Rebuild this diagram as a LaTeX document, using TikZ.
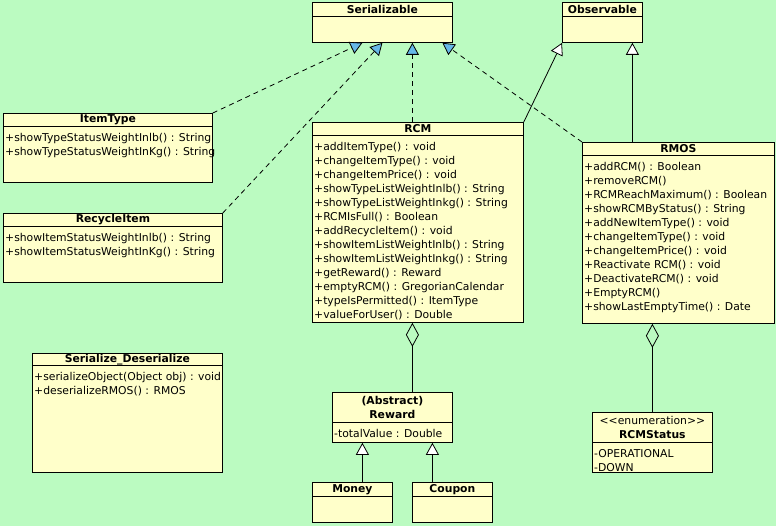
\documentclass[tikz,border=0pt]{standalone}
\usepackage{fontspec}
\setmainfont{DejaVu Sans}
\usetikzlibrary{arrows.meta}
\definecolor{vpgreen}{RGB}{187,251,193}
\definecolor{vpyellow}{RGB}{255,255,202}
\definecolor{vpblue}{RGB}{102,184,232}

\begin{document}
\begin{tikzpicture}[x=1pt, y=-1pt, font=\fontsize{10.8}{14}\selectfont]
% Define styles
\tikzstyle{classbox} = [rectangle, anchor=north west, inner sep=0pt, draw=black, fill=vpyellow, line width=0.8pt]
\tikzstyle{classhead} = [rectangle, anchor=north, inner sep=0pt, draw=black, line width=0.8pt, align=center, font=\fontsize{10.8}{14}\selectfont\bfseries]
\tikzstyle{members} = [anchor=north west, align=left, inner xsep=2pt, inner ysep=6pt]
\tikzstyle{realize} = [line width=0.8pt, dash pattern=on 5pt off 4pt, -{Triangle[length=12pt, width=13pt, fill=vpblue]}]
\tikzstyle{extend} = [line width=0.8pt, -{Triangle[length=12pt, width=13pt, fill=white]}]
\tikzstyle{aggregate} = [line width=0.8pt, {Diamond[open, length=24pt, width=13pt]}-]

% Background
\fill [vpgreen] (0,0) rectangle (776,526);
\useasboundingbox (0,0) rectangle (776,526);

% Draw classes
\node [classbox, minimum width=140pt, minimum height=40pt] (serializable) at (312,2) {};
\node [classhead, minimum width=140pt, minimum height=14pt] (serializablehead) at (serializable.north) {Serializable};

\node [classbox, minimum width=80pt, minimum height=40pt] (observable) at (562,2) {};
\node [classhead, minimum width=80pt, minimum height=14pt] (observablehead) at (observable.north) {Observable};

\node [classbox, minimum width=209pt, minimum height=69pt] (itemtype) at (3,113) {};
\node [classhead, minimum width=209pt, minimum height=13pt] (itemtypehead) at (itemtype.north) {ItemType};
\node [members] at (itemtypehead.south west) {+showTypeStatusWeightInlb() : String\\+showTypeStatusWeightInKg() : String};

\node [classbox, minimum width=219pt, minimum height=69pt] (recycleitem) at (3,213) {};
\node [classhead, minimum width=219pt, minimum height=13pt] (recycleitemhead) at (recycleitem.north) {RecycleItem};
\node [members] at (recycleitemhead.south west) {+showItemStatusWeightInlb() : String\\+showItemStatusWeightInKg() : String};

\node [classbox, minimum width=190pt, minimum height=119pt] (serialize) at (32,353) {};
\node [classhead, minimum width=190pt, minimum height=12pt] (serializehead) at (serialize.north) {Serialize\_Deserialize};
\node [members] at (serializehead.south west) {+serializeObject(Object obj) : void\\+deserializeRMOS() : RMOS};

\node [classbox, minimum width=211pt, minimum height=200pt] (rcm) at (312,122) {};
\node [classhead, minimum width=211pt, minimum height=13pt] (rcmhead) at (rcm.north) {RCM};
\node [members] at (rcmhead.south west) {+addItemType() : void\\+changeItemType() : void\\+changeItemPrice() : void\\+showTypeListWeightInlb() : String\\+showTypeListWeightInkg() : String\\+RCMIsFull() : Boolean\\+addRecycleItem() : void\\+showItemListWeightInlb() : String\\+showItemListWeightInkg() : String\\+getReward() : Reward\\+emptyRCM() : GregorianCalendar\\+typeIsPermitted() : ItemType\\+valueForUser() : Double};

\node [classbox, minimum width=192pt, minimum height=181pt] (rmos) at (582,142) {};
\node [classhead, minimum width=192pt, minimum height=13pt] (rmoshead) at (rmos.north) {RMOS};
\node [members] at (rmoshead.south west) {+addRCM() : Boolean\\+removeRCM()\\+RCMReachMaximum() : Boolean\\+showRCMByStatus() : String\\+addNewItemType() : void\\+changeItemType() : void\\+changeItemPrice() : void\\+Reactivate RCM() : void\\+DeactivateRCM() : void\\+EmptyRCM()\\+showLastEmptyTime() : Date};

\node [classbox, minimum width=120pt, minimum height=50pt] (reward) at (332,392) {};
\node [classhead, minimum width=120pt, minimum height=30pt] (rewardhead) at (reward.north) {(Abstract)\\Reward};
\node [members] at (rewardhead.south west) {-totalValue : Double};

\node [classbox, minimum width=80pt, minimum height=40pt] (money) at (312,482) {};
\node [classhead, minimum width=80pt, minimum height=14pt] (moneyhead) at (money.north) {Money};

\node [classbox, minimum width=80pt, minimum height=40pt] (coupon) at (412,482) {};
\node [classhead, minimum width=80pt, minimum height=14pt] (couponhead) at (coupon.north) {Coupon};

\node [classbox, minimum width=120pt, minimum height=60pt] (rcmstatus) at (592,412) {};
\node [classhead, minimum width=120pt, minimum height=30pt] (rcmstatushead) at (rcmstatus.north) {{\mdseries <\kern0pt<enumeration>\kern0pt>}\\RCMStatus};
\node [members] at (rcmstatushead.south west) {-OPERATIONAL\\-DOWN};

% Draw arrows
\draw [realize] (itemtype.north east) -- ([xshift=-20pt]serializable.south);
\draw [realize] (recycleitem.north east) -- (serializable.south);
\draw [realize] ([xshift=30pt]serializable.south |- rcm.north) -- ([xshift=30pt]serializable.south);
\draw [realize] (rmos.north west) -- ([xshift=60pt]serializable.south);
\draw [extend] (rcm.north east) -- (observable.south west);
\draw [extend] ([xshift=30pt]observable.south |- rmos.north) -- ([xshift=30pt]observable.south);
\draw [extend] ([xshift=10pt]money.north) -- ([xshift=10pt]money.north |- reward.south);
\draw [extend] ([xshift=-20pt]coupon.north) -- ([xshift=-20pt]coupon.north |- reward.south);
\draw [aggregate] ([xshift=20pt]reward.north |- rcm.south) -- ([xshift=20pt]reward.north);
\draw [aggregate] (rcmstatus.north |- rmos.south) -- (rcmstatus.north);
\end{tikzpicture}
\end{document}
